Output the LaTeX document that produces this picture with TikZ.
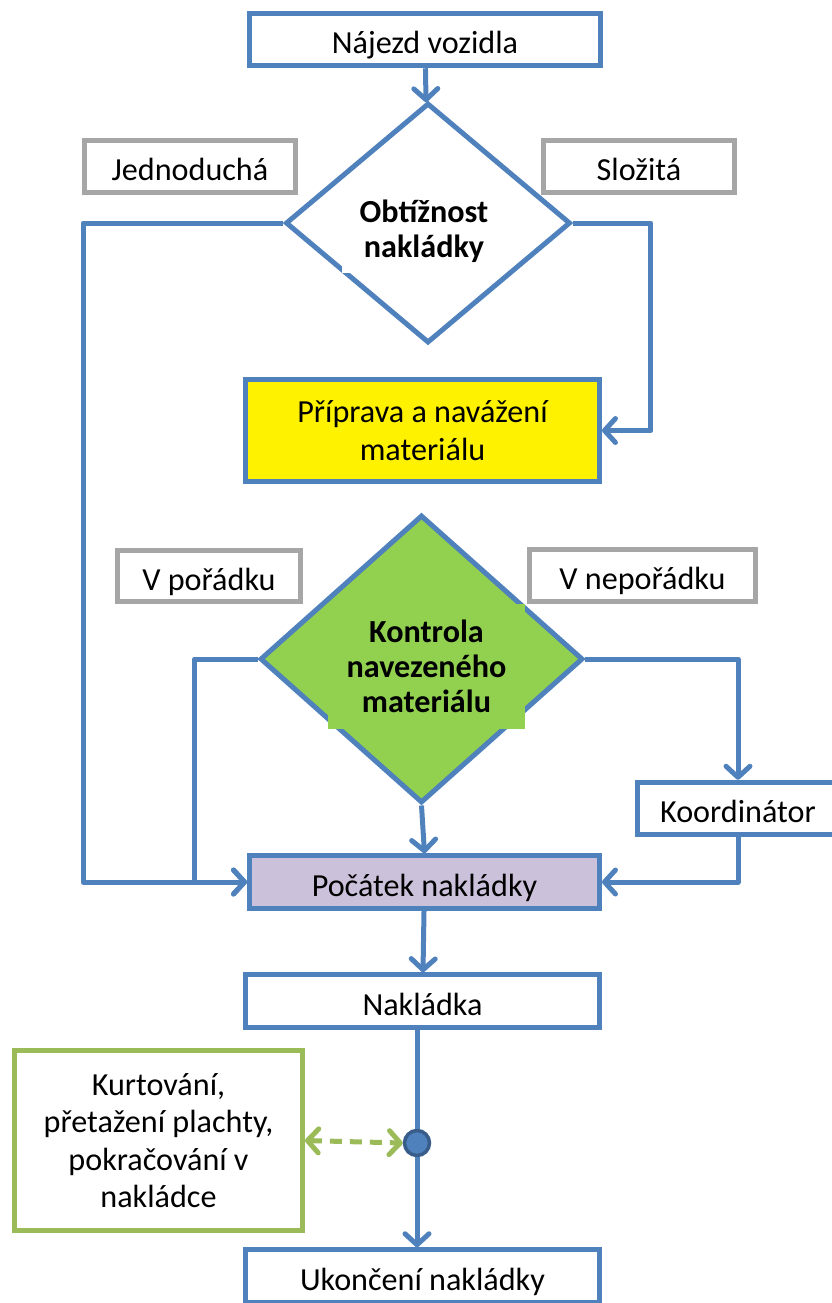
\documentclass[tikz,border=0pt]{standalone}
\usepackage{fontspec}
\setmainfont{Carlito}
\usepackage{xcolor}
\usetikzlibrary{positioning}
\usetikzlibrary{arrows.meta}
\usetikzlibrary{shapes.geometric}
\definecolor{boxblue}{HTML}{4F81BD}
\definecolor{dotblue}{HTML}{385D8A}
\definecolor{labgrey}{HTML}{A6A6A6}
\definecolor{ctrlgreen}{HTML}{92D050}
\definecolor{sidegreen}{HTML}{9BBB59}
\definecolor{lavender}{HTML}{CCC1DA}

\begin{document}
\begin{tikzpicture}[x=.02cm,y=-.02cm,line width=.1cm,font=\fontsize{18.3}{21.3}\selectfont,
  >={Straight Barb[length=.22cm,width=.48cm,round]}]
\tikzstyle{box}=[draw=boxblue,shape=rectangle,minimum width=7.08cm,minimum height=1.05cm,inner sep=0pt,text height=.62cm,text depth=.06cm]
\tikzstyle{tall}=[draw=boxblue,shape=rectangle,inner sep=0pt,align=center]
\tikzstyle{dia}=[draw=boxblue,shape=diamond,inner sep=0pt]
\tikzstyle{lab}=[draw=labgrey,shape=rectangle,minimum height=1.03cm,inner sep=0pt,text height=.62cm,text depth=.06cm]
\tikzstyle{flow}=[draw=boxblue,line width=.1cm,line join=round]
\tikzstyle{dot}=[shape=circle,fill=boxblue,draw=dotblue,line width=.07cm,minimum size=.5cm,inner sep=0pt]

\useasboundingbox (0,0) rectangle (832,1303);
\clip (0,0) rectangle (832,1303);

% top of the flow
\draw (425,39.5) node[box,minimum width=7.02cm] (start) {Nájezd vozidla}; % start
\draw (428,223) node[dia,minimum width=5.7cm,minimum height=4.8cm] (dif) {}; % difficulty
\draw (424,231) node[fill=white,minimum width=3.28cm,minimum height=1.66cm,inner sep=0pt,align=center,font=\fontsize{18.3}{20}\selectfont\bfseries] (diftext) {Obtížnost\\nakládky};
\draw (190,166.5) node[lab,minimum width=4.22cm] (easy) {Jednoduchá}; % easy
\draw (639,166.5) node[lab,minimum width=3.82cm] (hard) {Složitá}; % hard
\draw (422.5,430.5) node[tall,fill=yellow,minimum width=7.08cm,minimum height=2.04cm] (prep) {Příprava a navážení\\materiálu}; % prep

% control of the material
\draw (421.5,659) node[dia,fill=ctrlgreen,minimum width=6.46cm,minimum height=5.76cm] (ctrl) {}; % control
\draw (426.5,666) node[fill=ctrlgreen,minimum width=3.94cm,minimum height=2.5cm,inner sep=0pt,align=center,font=\fontsize{18.3}{20}\selectfont\bfseries] (ctrltext) {Kontrola\\navezeného\\materiálu};
\draw (209,576) node[lab,minimum width=3.66cm] (ok) {V pořádku}; % ok
\draw (642.5,575.5) node[lab,minimum width=4.52cm] (notok) {V nepořádku}; % not ok
\draw (738,808.5) node[box,minimum width=4.02cm] (coord) {Koordinátor}; % coordinator

% loading
\draw (424.5,882) node[box,fill=lavender,minimum width=7.0cm] (begin) {Počátek nakládky}; % begin
\draw (422.5,1001) node[box] (load) {Nakládka}; % loading
\draw (417,1143) node[dot] (dot) {}; % junction
\draw (422.5,1276) node[box] (end) {Ukončení nakládky}; % end
\draw (158.5,1140.5) node[tall,draw=sidegreen,minimum width=5.76cm,minimum height=3.6cm] (side) {Kurtování,\\přetažení plachty,\\pokračování v\\nakládce}; % side tasks

% connectors
\draw[flow,->] (start) -- (dif);
\draw[flow,->] (dif.west) -- ++(-200,0) |- (begin.west);
\draw[flow,->] (dif.east) -- ++(78,0) |- (prep.east);
\draw[flow,->] (ctrl.west) -- ++(-63,0) |- (begin.west);
\draw[flow,->] (ctrl.east) -| (coord.north);
\draw[flow,->] (coord.south) |- (begin.east);
\draw[flow,->] (ctrl.south) -- (begin.north);
\draw[flow,->] (begin) -- (load);
\draw[flow] (dot |- load.south) -- (dot);
\draw[flow,->] (dot) -- (dot |- end.north);
\draw[sidegreen,dash pattern=on .24cm off .16cm,<->] (side.east) -- (dot.west);
\end{tikzpicture}
\end{document}
